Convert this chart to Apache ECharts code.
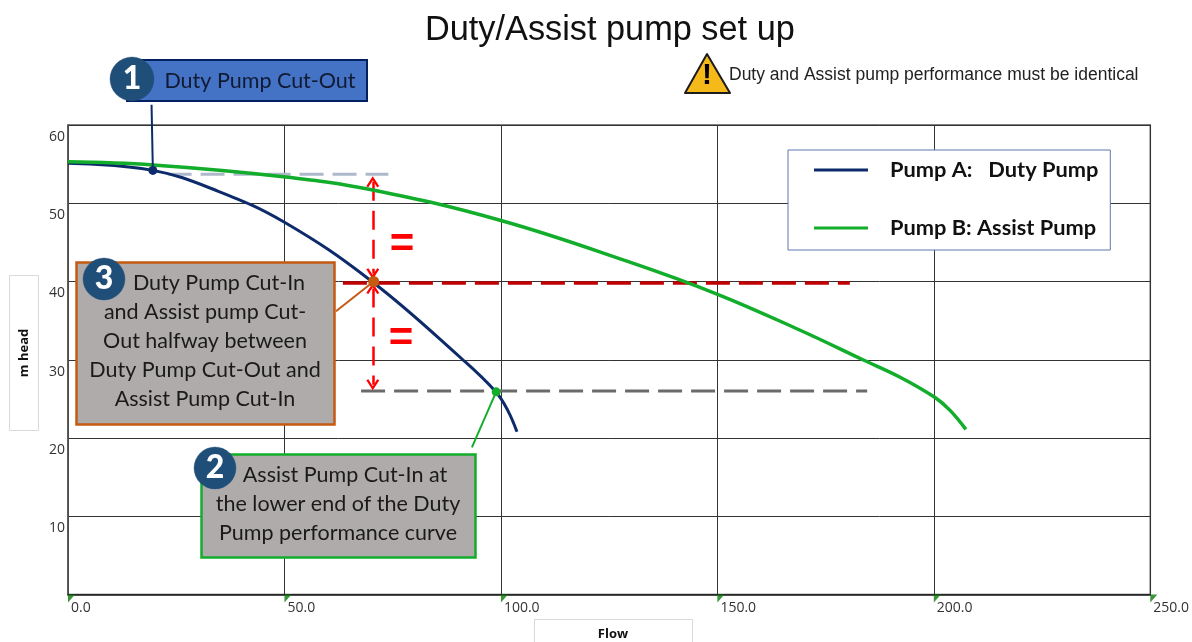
<!DOCTYPE html>
<html>
<head>
<meta charset="utf-8">
<style>html,body{margin:0;padding:0;background:#fff}#c{width:1192px;height:642px}</style>
<script src="https://cdn.jsdelivr.net/npm/echarts@6/dist/echarts.min.js"></script>
</head>
<body>
<div id="c"></div>
<script>
const chartTitle = 'Duty/Assist pump set up';
const noticeText = 'Duty and Assist pump performance must be identical';
const xTicks = [0, 50, 100, 150, 200, 250];
const yTickLabels = [10, 20, 30, 40, 50, 60];
const pumpAName = 'Pump A:   Duty Pump';
const pumpBName = 'Pump B: Assist Pump';
const pumpA = [[0,55.1],[19.6,54.2],[34.4,51.6],[49.9,47.6],[70.2,40],[91.2,30],[98.8,25.9],[101.6,23.5],[103.7,20.8]];
const pumpB = [[0,55.3],[19.6,54.9],[49.7,53.4],[70.4,51.7],[100,47.8],[129.1,42.6],[149.9,38.4],[169,33.8],[183.6,30],[192.1,27.8],[200.2,25.2],[203.8,23.5],[207.4,21.1]];
const cutOutLevel = [[23,53.7],[74,53.7]];
const midLevel = [[63.5,39.8],[180.6,39.8]];
const cutInLevel = [[67.7,26],[184.6,26]];
const arrowUpper = [[70.4,52.75],[70.4,41.0]];
const arrowLower = [[70.4,39.1],[70.4,26.8]];
const leader1 = [[19.3,62.6],[19.6,54.2]];
const leader2 = [[93.3,18.8],[98.9,25.9]];
const leader3 = [[61.9,36.2],[70.6,40]];
const label1 = 'Duty Pump Cut-Out';
const label2 = ['Assist Pump Cut-In at', 'the lower end of the Duty\nPump performance curve'];
const label3 = ['Duty Pump Cut-In', 'and Assist pump Cut-\nOut halfway between\nDuty Pump Cut-Out and\nAssist Pump Cut-In'];

const chart = echarts.init(document.getElementById('c'), null, {renderer:'canvas'});
const BLUE='#0d2b6b', GREEN='#12ad2b', ORANGE='#c55a11', GREYBOX='#afabab', NAVY='#1f4e79', INK='#1a1a1a';
const UI='Lato, Carlito, sans-serif';
const BOXFONT='21.5px '+UI;
const chevron='path://M0 9.6L5 0L10 9.6L8.4 10.6L5 4L1.6 10.6Z';

function dashed(name,data,color,width){
  return {name,type:'line',data,showSymbol:false,silent:true,z:3,clip:false,lineStyle:{color,width,type:[24,9]}};
}
function leader(name,data,color,width,size){
  return {name,type:'line',silent:true,clip:false,z:6,showSymbol:true,showAllSymbol:true,
    lineStyle:{color,width},itemStyle:{color},
    data:[{value:data[0],symbol:'none'},{value:data[1],symbol:'circle',symbolSize:size}]};
}
function rect(x,y,w,h,fill,stroke,lw,z){return {type:'rect',shape:{x,y,width:w,height:h},style:{fill,stroke,lineWidth:lw},z:z||10,silent:true};}
function badge(cx,cy,r,t,z){return [
  {type:'circle',shape:{cx,cy,r},style:{fill:NAVY,stroke:'rgba(31,78,121,.35)',lineWidth:1},z:z||11,silent:true},
  {type:'text',x:cx,y:cy,style:{text:t,fill:'#fff',font:'900 32px Lato, sans-serif',textAlign:'center',textVerticalAlign:'middle'},z:(z||11)+1,silent:true}
];}
function txt(x,y,t,font,fill,lh,extra){return Object.assign({type:'text',x,y,style:{text:t,fill:fill||INK,font,textAlign:'center',textVerticalAlign:'middle',lineHeight:lh||29},z:12,silent:true},extra||{});}

const graphics=[
  {type:'polygon',shape:{points:[[707,54],[685,93],[730,93]]},style:{fill:'#f6b91a',stroke:'#1c1c1c',lineWidth:2,lineJoin:'round'},z:10,silent:true},
  {type:'text',x:707,y:76,style:{text:'!',fill:'#000',font:'bold 30px "Liberation Sans"',textAlign:'center',textVerticalAlign:'middle'},z:12,silent:true},
  {type:'text',x:729,y:75,style:{text:noticeText,fill:'#222',font:'17.5px "Liberation Sans"',textAlign:'left',textVerticalAlign:'middle'},z:12,silent:true},
  rect(127,60,240,41,'#4472c4','#002060',2),
  ...badge(132,79,22,'1'),
  txt(260,81,label1,BOXFONT,'#111a33'),
  rect(76.5,262.5,258,162,GREYBOX,ORANGE,2.5),
  ...badge(104,279,21,'3'),
  txt(219,283,label3[0],BOXFONT),
  txt(205,355.5,label3[1],BOXFONT),
  rect(201.5,454.5,274,103,GREYBOX,GREEN,2.5),
  ...badge(215,468,21,'2'),
  txt(345,475,label2[0],BOXFONT),
  txt(338,518.5,label2[1],BOXFONT),
  {type:'text',x:402,y:245,style:{text:'=',fill:'#ff0000',font:'bold 42px "Liberation Sans"',textAlign:'center',textVerticalAlign:'middle'},z:8,silent:true},
  {type:'text',x:401,y:339,style:{text:'=',fill:'#ff0000',font:'bold 42px "Liberation Sans"',textAlign:'center',textVerticalAlign:'middle'},z:8,silent:true},
  rect(9.5,275.5,29,155,'#fff','#d9d9d9',1),
  txt(24,353,'m head','bold 13px "Open Sans"','#111',16,{rotation:Math.PI/2}),
  rect(534.5,619.5,158,30,'#fff','#d9d9d9',1),
  txt(613,634,'Flow','bold 13px "Open Sans"','#111',16)
];

chart.setOption({
  animation:false,
  backgroundColor:'#fff',
  title:{text:chartTitle,left:420,top:9,textStyle:{fontFamily:'Liberation Sans',fontSize:34.3,fontWeight:'normal',color:'#111'}},
  grid:{left:68,right:41.5,top:125,bottom:47.5,show:true,borderColor:'#555',borderWidth:1.5,backgroundColor:'#fff'},
  legend:{
    data:[pumpAName,pumpBName],orient:'vertical',left:788,top:150,
    padding:[8,12,10,26],itemWidth:54,itemHeight:3,itemGap:34,
    icon:'rect',backgroundColor:'#fff',borderColor:'#5b7bb0',borderWidth:1,borderRadius:0,
    selectedMode:false,
    textStyle:{fontFamily:'Lato',fontWeight:'bold',fontSize:21.8,color:'#111',padding:[0,0,0,17],lineHeight:24}
  },
  xAxis:{type:'value',min:0,max:250,interval:50,
    axisLine:{show:true,lineStyle:{color:'#222',width:1.5}},axisTick:{show:false},
    splitLine:{show:true,lineStyle:{color:'#333',width:1}},
    axisLabel:{show:true,showMinLabel:true,showMaxLabel:true,align:'left',margin:7,padding:[0,0,0,3],color:'#333',fontFamily:'Open Sans',fontSize:14,
      formatter:v=>xTicks.includes(v)?v.toFixed(1):''}},
  yAxis:{type:'value',min:0,max:60,interval:10,
    axisLine:{show:true,lineStyle:{color:'#555',width:1.5}},axisTick:{show:false},
    splitLine:{show:true,lineStyle:{color:'#333',width:1}},
    axisLabel:{show:true,showMaxLabel:true,margin:3,align:'right',verticalAlign:'top',lineHeight:24,color:'#333',fontFamily:'Open Sans',fontSize:14,
      formatter:v=>yTickLabels.includes(v)?String(v):''}},
  series:[
    dashed('Cut-out level',cutOutLevel,'#adb9ca',3),
    dashed('Mid level',midLevel,'#c00000',3.5),
    dashed('Cut-in level',cutInLevel,'#6b6b6b',3),
    {name:pumpAName,type:'line',data:pumpA,smooth:0.4,showSymbol:false,silent:true,z:4,clip:false,lineStyle:{color:BLUE,width:3},itemStyle:{color:BLUE}},
    {name:pumpBName,type:'line',data:pumpB,smooth:0.4,showSymbol:false,silent:true,z:5,clip:false,lineStyle:{color:GREEN,width:3.5},itemStyle:{color:GREEN}},
    {name:'Spacing arrows',type:'line',data:[],silent:true,z:5,
      markLine:{silent:true,animation:false,symbol:[chevron,chevron],symbolSize:[13,11],label:{show:false},
        lineStyle:{color:'#ff0000',width:2.5,type:[19,10]},itemStyle:{color:'#ff0000'},
        data:[
          [{coord:arrowUpper[0]},{coord:arrowUpper[1]}],
          [{coord:arrowLower[0]},{coord:arrowLower[1]}]
        ]}},
    leader('Leader 1',leader1,BLUE,2,9),
    leader('Leader 2',leader2,GREEN,2,9),
    leader('Leader 3',leader3,ORANGE,2,11),
    {name:'Tick flags',type:'scatter',silent:true,clip:false,z:7,symbol:'path://M0 0H7L0 8Z',symbolSize:[7,8],symbolOffset:[3.5,4],
      itemStyle:{color:'#0b7a0b'},data:xTicks.map(v=>[v,0])}
  ],
  graphic:graphics
});
</script>
</body>
</html>
